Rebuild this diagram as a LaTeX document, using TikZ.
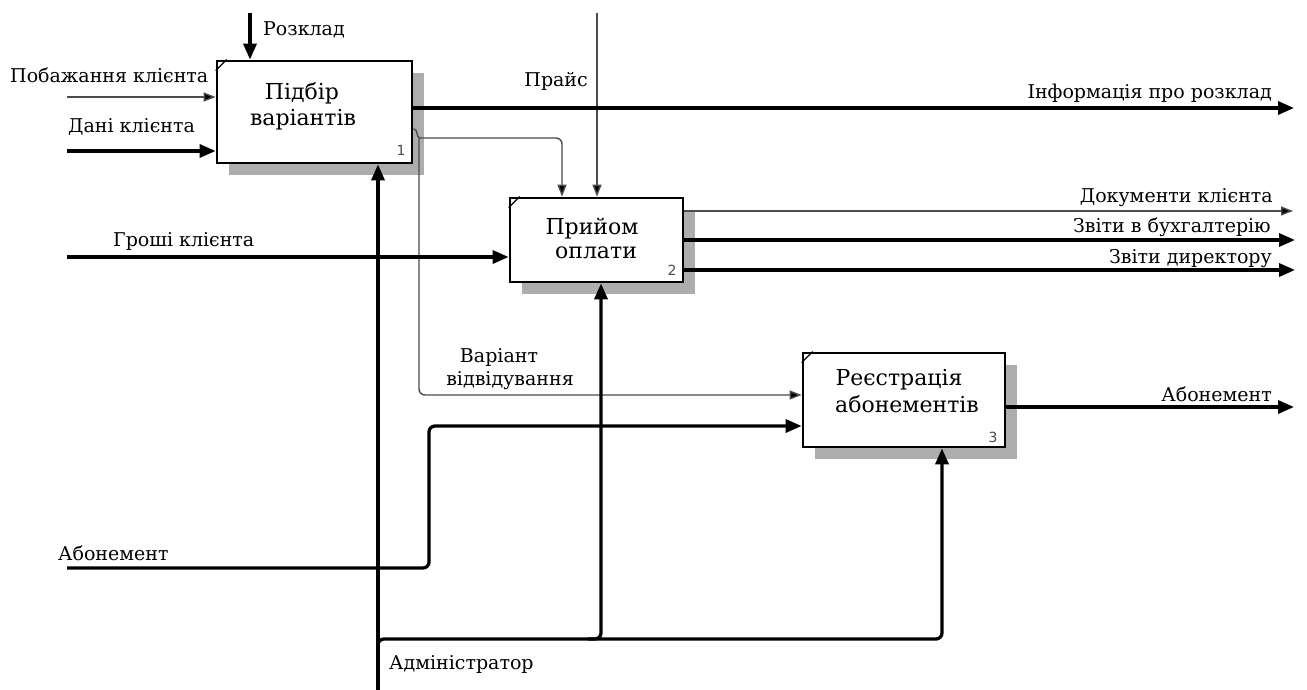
\documentclass[tikz,border=0pt]{standalone}
\usepackage{fontspec}
\setmainfont{DejaVu Serif}
\newfontfamily\numfamily{DejaVu Sans}
\usetikzlibrary{arrows.meta,shadows}
\definecolor{shadowgray}{gray}{0.68}
\definecolor{numgray}{gray}{0.3}
\definecolor{thingray}{gray}{0.3}
\tikzset{
  box/.style={draw, line width=2.7pt, fill=white, inner sep=0pt,
    drop shadow={shadow xshift=12pt, shadow yshift=-12pt, opacity=1, fill=shadowgray}},
  tab/.style={line width=1.3pt},
  thickA/.style={line width=3.3pt, -{Triangle[length=16pt,width=13pt]}},
  thinA/.style={line width=1.4pt, draw=thingray, -{Triangle[length=12pt,width=9pt,fill=black]}},
  thinL/.style={line width=1.4pt, draw=thingray},
  lbl/.style={font=\fontsize{19}{22}\selectfont, inner sep=0pt},
  boxtxt/.style={font=\fontsize{22}{26}\selectfont, inner sep=0pt},
  num/.style={font=\numfamily\fontsize{14}{16}\selectfont, text=numgray, inner sep=0pt},
}
\begin{document}
\begin{tikzpicture}[x=1pt,y=-1pt]
\useasboundingbox (0,0) rectangle (1307,690);
% boxes
\node[box, minimum width=195pt, minimum height=102pt] (b1) at (314.5,112) {};
\node[box, minimum width=173pt, minimum height=84pt] (b2) at (596.5,240) {};
\node[box, minimum width=202pt, minimum height=94pt] (b3) at (904,400) {};
\foreach \b in {b1,b2,b3}
  \draw[tab] ([yshift=-11pt]\b.north west) -- ([xshift=11pt]\b.north west);
% box texts
\node[boxtxt, anchor=base] (b1t1) at (302,100) {Підбір};
\node[boxtxt, anchor=base] (b1t2) at (303,126) {варіантів};
\node[boxtxt, anchor=base] (b2t1) at (592,234) {Прийом};
\node[boxtxt, anchor=base] (b2t2) at (596,258) {оплати};
\node[boxtxt, anchor=base] (b3t1) at (899,385) {Реєстрація};
\node[boxtxt, anchor=base] (b3t2) at (907,412) {абонементів};
\node[num] (n1) at (401,150) {1};
\node[num] (n2) at (672,270) {2};
\node[num] (n3) at (993,437) {3};
% controls
\coordinate (rozS) at (250,13);
\draw[thickA] (rozS) -- (rozS |- b1.north);
\coordinate (praS) at (597,13);
\draw[thinA] (praS) -- (praS |- b2.north);
% inputs of box 1
\coordinate (pobS) at (67,97);
\draw[thinA] (pobS) -- (pobS -| b1.west);
\coordinate (danS) at (67,151);
\draw[thickA] (danS) -- (danS -| b1.west);
% outputs of box 1
\coordinate (infE) at (1294,108);
\draw[thickA] (infE -| b1.east) -- (infE);
\coordinate (o1y) at (0,129);
\coordinate (o1a) at (414,129);
\coordinate (jv) at (420,138);
\draw[thinL] (b1.east |- o1y) -- (o1a) .. controls (418,129) and (416,138) .. (jv);
\coordinate (c2) at (562,138);
\draw[thinA, rounded corners=6pt] (jv) -- (c2) -- (c2 |- b2.north);
\coordinate (jv2) at (419,137);
\coordinate (c3) at (419,395);
\draw[thinA, rounded corners=6pt] (jv2) -- (c3) -- (c3 -| b3.west);
% input of box 2
\coordinate (groS) at (67,257);
\draw[thickA] (groS) -- (groS -| b2.west);
% outputs of box 2
\coordinate (dokE) at (1293,211);
\draw[thinA] (dokE -| b2.east) -- (dokE);
\coordinate (zbE) at (1295,240);
\draw[thickA] (zbE -| b2.east) -- (zbE);
\coordinate (zdE) at (1295,270);
\draw[thickA] (zdE -| b2.east) -- (zdE);
% input of box 3
\coordinate (abS) at (67,568);
\coordinate (abC) at (429,568);
\coordinate (abD) at (429,426);
\draw[thickA, rounded corners=6pt] (abS) -- (abC) -- (abD) -- (abD -| b3.west);
% output of box 3
\coordinate (abE) at (1294,407);
\draw[thickA] (abE -| b3.east) -- (abE);
% mechanism
\coordinate (admS) at (378,690);
\draw[thickA] (admS) -- (admS |- b1.south);
\coordinate (mA) at (378,652);
\coordinate (mB) at (378,639);
\coordinate (mC) at (942,639);
\draw[thickA, rounded corners=6pt] (mA) -- (mB) -- (mC) -- (mC |- b3.south);
\coordinate (mD) at (588,639);
\coordinate (mE) at (601,639);
\draw[thickA, rounded corners=6pt] (mD) -- (mE) -- (mE |- b2.south);
% labels
\node[lbl, anchor=base west] (lroz) at (263,36) {Розклад};
\node[lbl, anchor=base west] (lpob) at (10,83) {Побажання клієнта};
\node[lbl, anchor=base west] (ldan) at (68,133) {Дані клієнта};
\node[lbl, anchor=base east] (lpra) at (588,87) {Прайс};
\node[lbl, anchor=base east] (linf) at (1272,99) {Інформація про розклад};
\node[lbl, anchor=base west] (lgro) at (113,246) {Гроші клієнта};
\node[lbl, anchor=base east] (ldok) at (1273,203) {Документи клієнта};
\node[lbl, anchor=base east] (lzb) at (1271,233) {Звіти в бухгалтерію};
\node[lbl, anchor=base east] (lzd) at (1272,263) {Звіти директору};
\node[lbl, anchor=base] (lvar1) at (499,362) {Варіант};
\node[lbl, anchor=base] (lvar2) at (510,385) {відвідування};
\node[lbl, anchor=base west] (labin) at (58,560) {Абонемент};
\node[lbl, anchor=base east] (labout) at (1272,401) {Абонемент};
\node[lbl, anchor=base west] (ladm) at (389,669) {Адміністратор};
\end{tikzpicture}
\end{document}
